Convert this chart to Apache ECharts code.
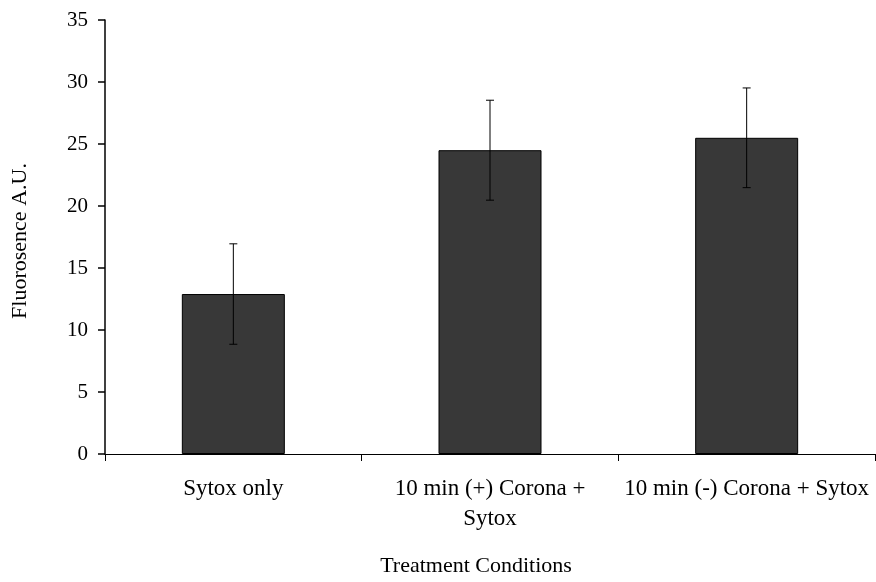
<!DOCTYPE html>
<html><head><meta charset="utf-8">
<script src="https://cdn.jsdelivr.net/npm/echarts@6/dist/echarts.min.js"></script>
<style>html,body{margin:0;padding:0;background:#fff}#c{width:876px;height:582px}</style>
</head><body><div id="c"></div>
<script>
const categories = ['Sytox only', '10 min (+) Corona +\nSytox', '10 min (-) Corona + Sytox'];
const means = [12.9, 24.5, 25.5];
const errors = [4.05, 4.03, 4.02];
const yTicks = [0, 5, 10, 15, 20, 25, 30, 35];

const font = 'Liberation Serif, Times New Roman, serif';
const chart = echarts.init(document.getElementById('c'), null, {renderer: 'canvas'});
const errData = categories.map((c, i) => [i, means[i] - errors[i], means[i] + errors[i]]);
chart.setOption({
  animation: false,
  grid: {left: 105, right: 1, top: 20, bottom: 124, containLabel: false},
  xAxis: {
    type: 'category', data: categories,
    name: 'Treatment Conditions', nameLocation: 'middle', nameGap: 101,
    nameTextStyle: {fontFamily: font, fontSize: 22, color: '#000', padding: [0, 28, 0, 0]},
    axisLine: {lineStyle: {color: '#000', width: 1}},
    axisTick: {show: true, length: 7, lineStyle: {color: '#000'}},
    axisLabel: {fontFamily: font, fontSize: 23, color: '#000', margin: 20, lineHeight: 30, interval: 0}
  },
  yAxis: {
    type: 'value', min: 0, max: 35, interval: 5,
    axisLine: {show: true, lineStyle: {color: '#000', width: 1.5}},
    axisTick: {show: true, length: 7, lineStyle: {color: '#000', width: 1.5}},
    splitLine: {show: false},
    axisLabel: {fontFamily: font, fontSize: 21, color: '#000', margin: 17,
      formatter: v => yTicks.includes(v) ? String(v) : ''}
  },
  graphic: [{
    type: 'text', x: 20, y: 241, rotation: Math.PI / 2,
    style: {text: 'Fluorosence A.U.', font: '22px ' + font, fill: '#000', align: 'center', verticalAlign: 'middle'}
  }],
  series: [{
    type: 'bar', data: means, barWidth: 103,
    itemStyle: {color: '#383838', borderColor: '#000', borderWidth: 1}
  }, {
    type: 'custom', data: errData,
    renderItem: function (params, api) {
      const x = api.coord([api.value(0), 0])[0];
      const lo = api.coord([api.value(0), api.value(1)])[1];
      const hi = api.coord([api.value(0), api.value(2)])[1];
      const w = 4;
      const st = {stroke: '#000', lineWidth: 1};
      return {type: 'group', children: [
        {type: 'line', shape: {x1: x, y1: lo, x2: x, y2: hi}, style: st},
        {type: 'line', shape: {x1: x - w, y1: lo, x2: x + w, y2: lo}, style: st},
        {type: 'line', shape: {x1: x - w, y1: hi, x2: x + w, y2: hi}, style: st}
      ]};
    },
    z: 5
  }]
});
</script></body></html>
